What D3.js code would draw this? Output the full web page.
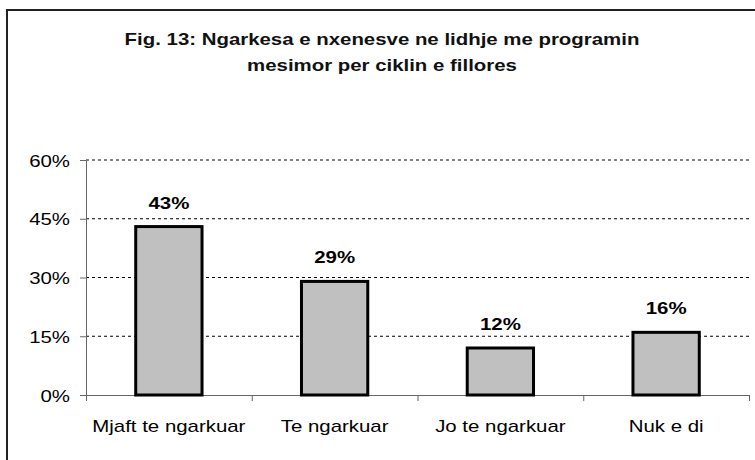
<!DOCTYPE html>
<html>
<head>
<meta charset="utf-8">
<script src="https://cdn.jsdelivr.net/npm/d3@7"></script>
<style>
  body { margin: 0; background: #fff; }
  text { font-family: "Liberation Sans", Arial, sans-serif; }
</style>
</head>
<body>
<div id="chartdiv"></div>
<script>
// chart data
var categories = ["Mjaft te ngarkuar", "Te ngarkuar", "Jo te ngarkuar", "Nuk e di"];
var values = [43, 29, 12, 16];
var yTicks = [0, 15, 30, 45, 60];
var titleLines = ["Fig. 13: Ngarkesa e nxenesve ne lidhje me programin", "mesimor per ciklin e fillores"];

var svgWidth = 755;
var svgHeight = 460;

var margin = { top: 160, right: 6, bottom: 65, left: 86 };
var width = svgWidth - margin.left - margin.right;
var height = svgHeight - margin.top - margin.bottom;

// the original text is a bit wider than Arial, stretch it horizontally
function stretch(sel, k) {
    sel.each(function () {
        var w = this.getComputedTextLength();
        d3.select(this)
            .attr("textLength", w * k)
            .attr("lengthAdjust", "spacingAndGlyphs");
    });
}

var svg = d3.select("#chartdiv")
    .append("svg")
    .attr("width", svgWidth)
    .attr("height", svgHeight);

// outer frame (cut off on right and bottom)
svg.append("rect")
    .attr("x", 7)
    .attr("y", 10)
    .attr("width", 800)
    .attr("height", 500)
    .attr("fill", "none")
    .attr("stroke", "#222")
    .attr("stroke-width", 2);

// title
svg.append("g").selectAll("text")
    .data(titleLines)
    .enter()
    .append("text")
    .attr("x", 382)
    .attr("y", (d, i) => 45 + i * 26)
    .attr("text-anchor", "middle")
    .attr("font-size", "17px")
    .attr("font-weight", "bold")
    .attr("fill", "#111")
    .text(d => d)
    .call(stretch, 1.2);

var chartGroup = svg.append("g")
    .attr("transform", `translate(${margin.left}, ${margin.top})`);

var xScale = d3.scaleBand()
    .domain(categories)
    .range([0, width])
    .paddingInner(0.6)
    .paddingOuter(0.3);

var xBound = d3.scaleLinear()
    .domain([0, categories.length])
    .range([0, width]);

var yScale = d3.scaleLinear()
    .domain([0, 60])
    .range([height, 0]);

// gridlines
chartGroup.append("g")
    .selectAll("line")
    .data(yTicks.filter(d => d > 0))
    .enter()
    .append("line")
    .attr("x1", 0)
    .attr("x2", width)
    .attr("y1", d => yScale(d))
    .attr("y2", d => yScale(d))
    .attr("stroke", "#000")
    .attr("stroke-width", 1)
    .attr("stroke-dasharray", "3,3");

// y axis
var leftAxis = d3.axisLeft(yScale)
    .tickValues(yTicks)
    .tickSize(6)
    .tickPadding(10)
    .tickFormat(d => d + "%");

var yAxis = chartGroup.append("g").call(leftAxis);
yAxis.select(".domain").attr("stroke", "#666").attr("stroke-width", 1);
yAxis.selectAll(".tick line").attr("stroke", "#666");
yAxis.selectAll("text")
    .attr("font-size", "17px")
    .attr("fill", "#000")
    .attr("dy", "0.36em")
    .call(stretch, 1.2);

// x axis (ticks between categories)
var bottomAxis = d3.axisBottom(xBound)
    .tickValues(d3.range(0, categories.length + 1))
    .tickSize(6)
    .tickSizeOuter(0)
    .tickFormat("");

var xAxis = chartGroup.append("g")
    .attr("transform", `translate(0, ${height})`)
    .call(bottomAxis);
xAxis.select(".domain").attr("stroke", "#666");
xAxis.selectAll(".tick line").attr("stroke", "#666");

// category labels
chartGroup.append("g")
    .selectAll("text")
    .data(categories)
    .enter()
    .append("text")
    .attr("x", d => xScale(d) + xScale.bandwidth() / 2)
    .attr("y", height + 37)
    .attr("text-anchor", "middle")
    .attr("font-size", "17px")
    .attr("fill", "#000")
    .text(d => d)
    .call(stretch, 1.2);

// bars
chartGroup.append("g")
    .selectAll("rect")
    .data(values)
    .enter()
    .append("rect")
    .attr("x", (d, i) => xScale(categories[i]))
    .attr("y", d => yScale(d))
    .attr("width", xScale.bandwidth())
    .attr("height", d => height - yScale(d))
    .attr("fill", "#c0c0c0")
    .attr("stroke", "#000")
    .attr("stroke-width", 3);

// value labels
chartGroup.append("g")
    .selectAll("text")
    .data(values)
    .enter()
    .append("text")
    .attr("x", (d, i) => xScale(categories[i]) + xScale.bandwidth() / 2)
    .attr("y", d => yScale(d) - 18)
    .attr("text-anchor", "middle")
    .attr("font-size", "17px")
    .attr("font-weight", "bold")
    .attr("fill", "#000")
    .text(d => d + "%")
    .call(stretch, 1.2);
</script>
</body>
</html>
